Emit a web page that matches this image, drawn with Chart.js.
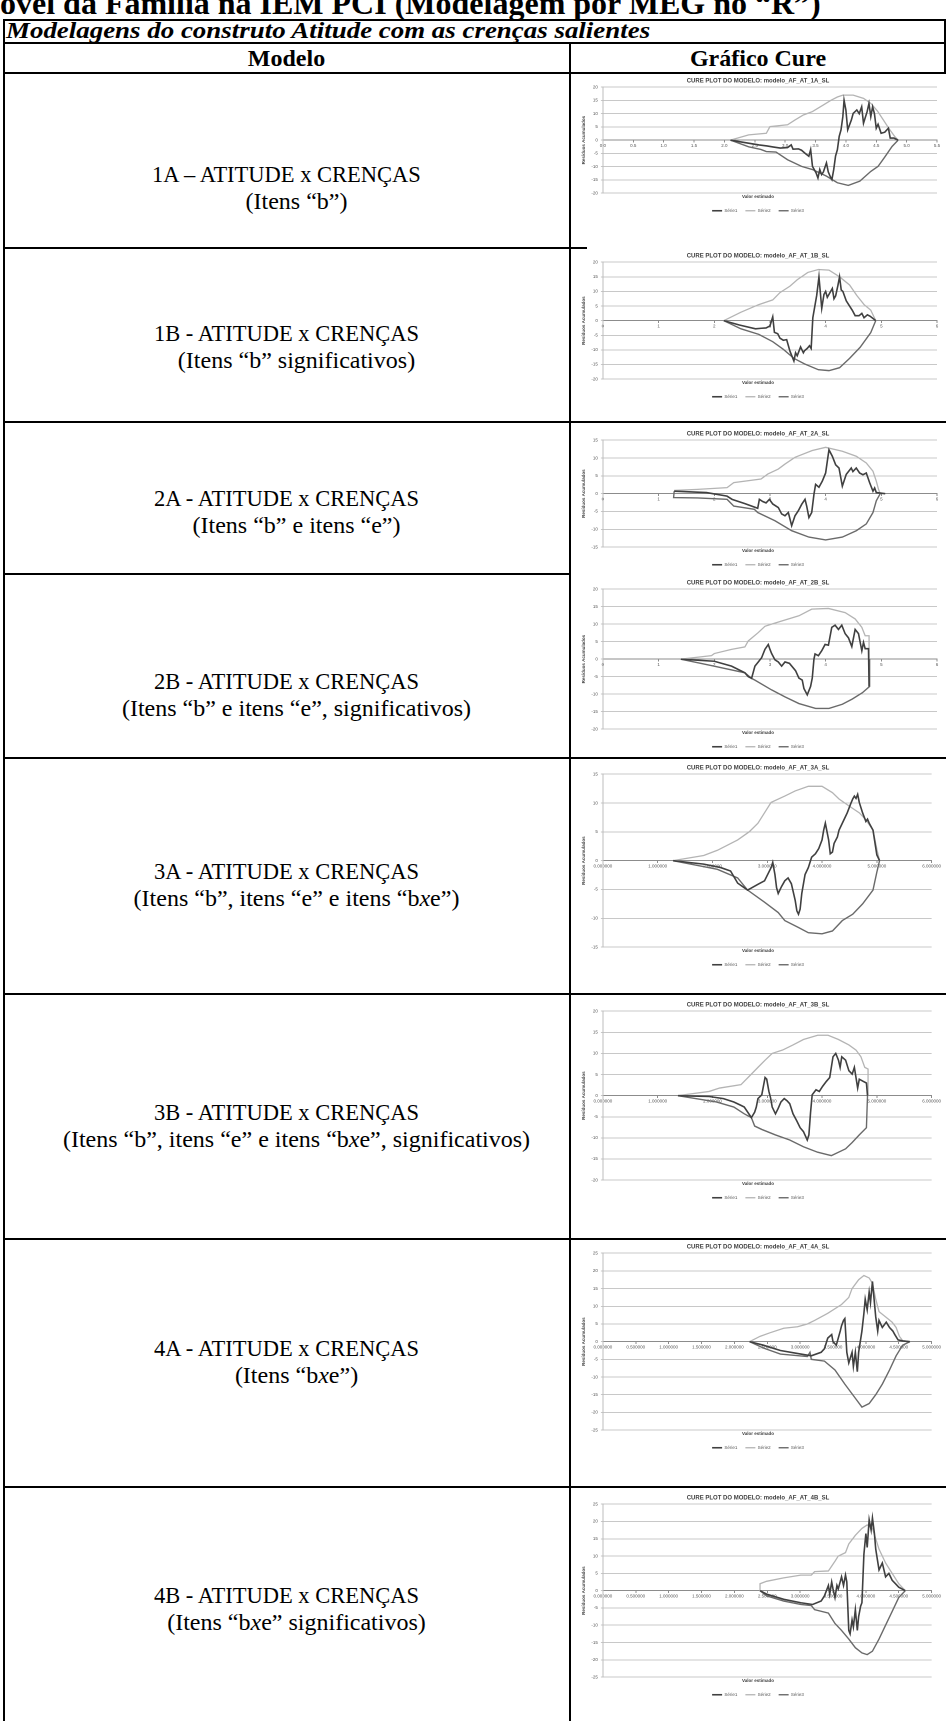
<!DOCTYPE html>
<html>
<head>
<meta charset="utf-8">
<script src="https://cdn.jsdelivr.net/npm/chart.js@4.4.1/dist/chart.umd.min.js"></script>
<style>
html,body{margin:0;padding:0;background:#fff;}
body{width:946px;height:1721px;position:relative;overflow:hidden;font-family:"Liberation Serif","Times New Roman",serif;color:#000;}
.ln{position:absolute;background:#000;}
.txt{position:absolute;white-space:nowrap;}
.cell{position:absolute;left:3px;width:567px;text-align:center;font-size:22.5px;line-height:26px;white-space:nowrap;}
.cell .l2{font-size:24px;position:relative;left:10px;}
.chartbox{position:absolute;left:572px;width:370px;}
</style>
</head>
<body>
<div class="txt" style="left:0;top:-15px;font-size:32px;font-weight:bold;">óvel da Família na IEM PCI (Modelagem por MEG no “R”)</div>

<!-- moldura da tabela -->
<div class="ln" style="left:3px;top:19px;width:943px;height:2px;"></div>
<div class="ln" style="left:3px;top:42px;width:943px;height:2px;"></div>
<div class="ln" style="left:3px;top:72px;width:943px;height:2px;"></div>
<div class="ln" style="left:3px;top:19px;width:2px;height:1702px;"></div>
<div class="ln" style="left:944px;top:19px;width:2px;height:55px;"></div>
<div class="ln" style="left:569px;top:42px;width:2px;height:1679px;"></div>
<div class="ln" style="left:3px;top:247px;width:584px;height:2px;"></div>
<div class="ln" style="left:3px;top:421px;width:943px;height:2px;"></div>
<div class="ln" style="left:3px;top:573px;width:567px;height:2px;"></div>
<div class="ln" style="left:3px;top:757px;width:943px;height:2px;"></div>
<div class="ln" style="left:3px;top:993px;width:943px;height:2px;"></div>
<div class="ln" style="left:3px;top:1238px;width:943px;height:2px;"></div>
<div class="ln" style="left:3px;top:1486px;width:943px;height:2px;"></div>

<div class="txt" style="left:6px;top:20px;font-size:23px;line-height:22px;font-weight:bold;font-style:italic;transform:scaleX(1.17);transform-origin:0 0;">Modelagens do construto Atitude com as crenças salientes</div>
<div class="txt" style="left:3px;width:567px;text-align:center;top:44px;font-size:24px;line-height:28px;font-weight:bold;">Modelo</div>
<div class="txt" style="left:570px;width:376px;text-align:center;top:44px;font-size:24px;line-height:28px;font-weight:bold;">Gráfico Cure</div>

<div id="rows"></div>

<script>
// textos da coluna Modelo
const modelos = ['1A – ATITUDE x CRENÇAS','1B - ATITUDE x CRENÇAS','2A - ATITUDE x CRENÇAS','2B - ATITUDE x CRENÇAS',
  '3A - ATITUDE x CRENÇAS','3B - ATITUDE x CRENÇAS','4A - ATITUDE x CRENÇAS','4B - ATITUDE x CRENÇAS'];
const itens = ['(Itens “b”)','(Itens “b” significativos)','(Itens “b” e itens “e”)','(Itens “b” e itens “e”, significativos)',
  '(Itens “b”, itens “e” e itens “b<i>x</i>e”)','(Itens “b”, itens “e” e itens “b<i>x</i>e”, significativos)',
  '(Itens “b<i>x</i>e”)','(Itens “b<i>x</i>e” significativos)'];

// configuracao de cada grafico CURE
const chartIds = ['1A','1B','2A','2B','3A','3B','4A','4B'];
const xMaxes = [5.5, 6, 6, 6, 6, 6, 5, 5];
const xSteps = [0.5, 1, 1, 1, 1, 1, 0.5, 0.5];
const xDecimals = [1, 0, 0, 0, 6, 6, 6, 6];
const yLimits = [20, 20, 15, 20, 15, 20, 25, 25];
const legendNames = ['Série1','Série2','Série3'];

// Série1 = residuos acumulados, Série2 = limite superior, Série3 = limite inferior
const s1_1A = [[2.1,0],[2.57,-1.8],[2.7,-2.2],[2.81,-2.6],[2.92,-3],[3.04,-2.8],[3.1,-1.8],[3.13,-3.4],[3.22,-3.3],[3.27,-3.8],[3.33,-5],[3.39,-6.1],[3.42,-3.6],[3.45,-9.9],[3.51,-12.4],[3.54,-14.3],[3.57,-11.1],[3.6,-13],[3.63,-12],[3.68,-8.6],[3.71,-12],[3.74,-13.6],[3.77,-14.9],[3.8,-11.1],[3.83,-6],[3.86,-3.6],[3.89,1.4],[3.92,3.9],[3.95,8.9],[3.97,15.1],[4.0,11.4],[4.03,3.9],[4.09,7.6],[4.12,10.1],[4.18,11.4],[4.22,10],[4.26,12.6],[4.29,6.4],[4.35,10.8],[4.38,13.9],[4.41,8.9],[4.44,12.6],[4.47,10],[4.5,4.5],[4.53,6],[4.58,2.6],[4.64,3],[4.7,4.5],[4.73,0.8],[4.79,0.8],[4.86,0]];
const s2_1A = [[2.1,0],[2.4,2],[2.69,2.6],[2.75,5.1],[3.04,5.8],[3.16,7.6],[3.3,9.5],[3.45,10.8],[3.63,13.3],[3.75,15],[3.86,16.3],[3.95,17],[4.12,17],[4.29,15.8],[4.41,13.9],[4.52,11],[4.62,7.5],[4.72,4],[4.8,1.5],[4.86,0]];
const s3_1A = [[2.1,0],[2.4,-2.5],[2.6,-3.5],[2.69,-4.3],[2.85,-4.5],[3.04,-7.4],[3.27,-9.9],[3.45,-11.1],[3.68,-13.6],[3.86,-16.1],[4.04,-17.1],[4.23,-15.5],[4.41,-11.8],[4.53,-9.9],[4.64,-6.4],[4.76,-2.4],[4.86,0]];

const s1_1B = [[2.17,0],[2.45,-1.5],[2.74,-2.8],[2.85,-2.6],[2.93,-2.5],[3.0,-1.8],[3.05,1.3],[3.08,-4],[3.14,-4.5],[3.18,-6],[3.24,-6.7],[3.3,-6.5],[3.36,-10.5],[3.43,-13.8],[3.46,-11],[3.49,-12],[3.55,-9],[3.6,-11],[3.62,-10.3],[3.67,-9.5],[3.71,-8.6],[3.74,-9.5],[3.77,1],[3.84,8.7],[3.88,15],[3.93,4.2],[3.97,9],[4.0,10],[4.03,8],[4.06,9],[4.12,11],[4.15,7.5],[4.18,8.5],[4.22,12],[4.25,15],[4.28,10.5],[4.31,10],[4.37,6.8],[4.43,5],[4.48,3.5],[4.53,1.7],[4.6,1.7],[4.65,2.5],[4.69,1],[4.75,2],[4.8,1.5],[4.9,0]];
const s2_1B = [[2.17,0],[2.48,2.9],[2.8,5.5],[3.05,7.1],[3.18,9.6],[3.36,11.8],[3.49,14],[3.68,16.5],[3.87,17.5],[4.06,17.3],[4.25,15],[4.43,12.2],[4.56,8.6],[4.69,5.5],[4.81,3.6],[4.9,0]];
const s3_1B = [[2.17,0],[2.48,-2.8],[2.8,-4.7],[3.05,-7.2],[3.24,-9.8],[3.43,-12.9],[3.62,-14.8],[3.87,-16.8],[4.06,-17.1],[4.25,-16.1],[4.43,-12.9],[4.62,-9.1],[4.81,-4.1],[4.9,0]];

const s1_2A = [[1.28,0.7],[1.86,0.3],[2.23,-0.7],[2.32,-1.6],[2.55,-2.8],[2.78,-4.1],[2.81,-1.6],[2.87,-2.2],[2.93,-2.6],[2.99,-1.6],[3.05,-2.9],[3.15,-3.9],[3.21,-5.7],[3.27,-6.2],[3.33,-5.3],[3.39,-9],[3.45,-6.2],[3.51,-4.8],[3.57,-3],[3.63,-1.6],[3.66,-3.5],[3.7,-6.7],[3.75,-5.3],[3.79,-0.2],[3.82,2.6],[3.88,1.8],[3.94,3.5],[4.0,5.8],[4.03,9.1],[4.06,12.3],[4.12,10.5],[4.18,8.1],[4.24,7.2],[4.3,2.1],[4.37,5.4],[4.46,7.2],[4.49,6.2],[4.55,7.2],[4.61,5.8],[4.67,5.3],[4.73,5.8],[4.79,3.1],[4.85,0.7],[4.88,1.6],[4.91,0.3],[5.07,0]];
const s2_2A = [[1.28,0.9],[1.7,1.2],[2.23,1.7],[2.35,3.1],[2.84,4.1],[2.96,5.5],[3.15,6.9],[3.27,8.3],[3.45,10.2],[3.76,12.1],[4.0,13],[4.3,11.9],[4.55,10.5],[4.73,8.6],[4.85,6.3],[4.91,3.5],[4.95,1.2],[4.98,0]];
const s3_2A = [[1.28,0.7],[1.27,-1.1],[1.7,-1.2],[2.23,-1.6],[2.35,-3.5],[2.72,-4.4],[2.78,-5.3],[3.09,-7.6],[3.39,-10.4],[3.7,-12.2],[4.0,-13],[4.3,-12.2],[4.55,-10.4],[4.73,-8.5],[4.85,-5.3],[4.91,-2],[4.98,0]];

const s1_2B = [[1.4,0],[2.0,-0.6],[2.31,-2],[2.55,-3.9],[2.61,-5],[2.67,-5.5],[2.73,-2],[2.79,-0.8],[2.85,0.4],[2.91,2.8],[2.97,4.2],[3.0,2.8],[3.03,1.6],[3.09,-0.2],[3.15,-0.8],[3.21,-2],[3.27,-0.8],[3.35,-1.2],[3.46,-3.3],[3.52,-5.4],[3.58,-6],[3.61,-8.4],[3.67,-10.2],[3.73,-7.8],[3.76,-5.4],[3.79,0],[3.81,1.5],[3.87,1],[3.93,2.4],[3.99,4.2],[4.05,4],[4.11,9.1],[4.17,9.7],[4.23,8.5],[4.29,9.7],[4.35,7.3],[4.41,6.1],[4.47,3.6],[4.53,8.5],[4.59,7.3],[4.65,2.4],[4.68,4.8],[4.71,3],[4.77,3],[4.78,-7.8]];
const s2_2B = [[1.4,0],[1.95,1],[2.0,1.6],[2.31,2.8],[2.55,3.5],[2.61,5.2],[2.79,7.6],[2.91,9.4],[3.03,10],[3.27,11.2],[3.52,12.4],[3.75,14.3],[4.05,14.5],[4.35,13.3],[4.53,11.5],[4.65,9.1],[4.71,6.7],[4.78,6.7],[4.78,0]];
const s3_2B = [[1.4,0],[2.0,-2.0],[2.55,-3.9],[2.67,-5.5],[2.73,-6],[3.03,-8.8],[3.27,-10.8],[3.52,-12.7],[3.82,-14.1],[4.06,-14.1],[4.3,-12.9],[4.48,-11.4],[4.66,-9.6],[4.79,-7.8],[4.79,0]];

const s1_3A = [[1.28,0],[1.84,-0.6],[2.15,-1.2],[2.33,-1.8],[2.46,-3.9],[2.64,-5.1],[2.7,-4.8],[2.83,-4.1],[2.95,-3.5],[3.07,-1.2],[3.1,-0.3],[3.14,-2.4],[3.17,-4.7],[3.2,-5.7],[3.26,-4.5],[3.32,-3.5],[3.38,-3],[3.44,-4],[3.51,-6.9],[3.54,-8.7],[3.57,-9.3],[3.6,-8.4],[3.63,-5.7],[3.69,-2.4],[3.75,-1.2],[3.81,0.6],[3.88,1.2],[3.94,2.1],[4.0,3.6],[4.03,5.3],[4.06,6.5],[4.12,3.6],[4.15,1.2],[4.19,1.5],[4.22,3],[4.28,4.1],[4.31,5.3],[4.4,7.1],[4.46,8.3],[4.52,9.8],[4.56,10.7],[4.59,11.2],[4.62,10.8],[4.65,11.5],[4.68,10.1],[4.74,8.3],[4.8,6.8],[4.83,7.2],[4.86,6.5],[4.93,5.3],[5.0,1],[5.05,0]];
const s2_3A = [[1.28,0],[1.84,0.9],[2.09,1.8],[2.46,3.6],[2.67,5],[2.83,6.5],[2.95,8.3],[3.07,10.1],[3.32,11.2],[3.51,12.1],[3.75,12.9],[4.0,12.9],[4.19,11.8],[4.31,10.7],[4.49,9.5],[4.68,8.3],[4.8,7.1],[4.93,5.3],[5.0,2],[5.05,0]];
const s3_3A = [[1.28,0],[2.09,-1.5],[2.46,-3],[2.64,-5.1],[2.95,-7.2],[3.2,-9],[3.32,-10.4],[3.57,-11.6],[3.75,-12.5],[4.0,-12.7],[4.19,-12.2],[4.37,-10.4],[4.56,-9.3],[4.74,-7.5],[4.86,-6],[4.93,-5.1],[5.0,-2],[5.05,0]];

const s1_3B = [[1.37,0],[1.94,-0.2],[2.2,-0.7],[2.39,-1.5],[2.52,-2.3],[2.58,-2.7],[2.71,-5.2],[2.77,-3.9],[2.8,-2.7],[2.83,-0.7],[2.9,0.2],[2.96,4.3],[2.99,3.9],[3.03,1],[3.06,-0.5],[3.09,-2.7],[3.15,-4.3],[3.2,-3],[3.25,-1.5],[3.31,-0.7],[3.36,-1.2],[3.41,-1.9],[3.47,-4.3],[3.54,-6],[3.6,-7.6],[3.66,-8.5],[3.73,-10.5],[3.76,-9.3],[3.79,-4],[3.82,0.2],[3.89,1.4],[3.95,1],[4.01,2.2],[4.08,3.4],[4.14,4.3],[4.2,9.2],[4.25,10],[4.3,8.4],[4.33,6.7],[4.36,9.2],[4.43,8.4],[4.49,5.9],[4.55,5.1],[4.59,6.7],[4.65,1.8],[4.68,3.9],[4.75,3.4],[4.81,3],[4.83,0]];
const s2_3B = [[1.37,0],[1.94,1],[2.13,1.8],[2.52,2.6],[2.71,5.1],[2.83,6.7],[2.96,8.4],[3.09,10],[3.28,10.8],[3.47,12],[3.66,13.3],[3.92,14.3],[4.11,14.3],[4.3,13.3],[4.49,12],[4.62,10.8],[4.71,9.2],[4.78,6.7],[4.84,6.3],[4.84,0]];
const s3_3B = [[1.37,0],[2.07,-1.5],[2.39,-2.7],[2.58,-4.3],[2.71,-5.2],[2.77,-7.2],[2.9,-8],[3.15,-9.3],[3.41,-10.5],[3.66,-12.1],[3.92,-13.4],[4.11,-14],[4.17,-14.2],[4.43,-12.6],[4.55,-11.1],[4.68,-9.3],[4.81,-7.6],[4.83,0]];

const s1_4A = [[2.23,0],[2.44,-1],[2.7,-2.5],[3.01,-3.5],[3.17,-4],[3.32,-3],[3.37,-2],[3.42,1],[3.48,2],[3.5,0],[3.55,-1],[3.61,3],[3.63,4.5],[3.66,6],[3.68,6.5],[3.71,-3],[3.74,-6],[3.79,-3],[3.81,-7],[3.84,-3],[3.87,-8.5],[3.89,-3],[3.94,3],[3.97,8],[3.99,12],[4.02,9],[4.05,14],[4.07,11],[4.1,17],[4.12,13],[4.15,7],[4.18,3],[4.2,6],[4.25,4],[4.31,5.5],[4.36,4],[4.41,3],[4.44,2],[4.49,0.5],[4.56,0.2],[4.67,0]];
const s2_4A = [[2.23,0],[2.39,1.5],[2.54,2.5],[2.75,3.8],[2.96,4.2],[3.11,5],[3.22,6],[3.42,8],[3.63,10.5],[3.74,12.5],[3.79,15],[3.89,17.5],[3.97,18.7],[4.05,18],[4.1,16.5],[4.15,12],[4.2,8.5],[4.3,7],[4.4,5.5],[4.46,4],[4.51,1.5],[4.56,0.3],[4.67,0]];
const s3_4A = [[2.23,0],[2.44,-1.8],[2.7,-3.5],[3.11,-4.2],[3.15,-3],[3.17,-5],[3.37,-5.5],[3.53,-8],[3.68,-12],[3.84,-16],[3.94,-18.5],[4.05,-17.5],[4.15,-15],[4.25,-12],[4.36,-8],[4.46,-4],[4.56,-1],[4.67,0]];

const s1_4B = [[2.39,0],[2.49,-1],[2.75,-2.5],[3.01,-3.5],[3.19,-4],[3.32,-3],[3.37,-1.5],[3.43,1.5],[3.45,-1],[3.48,2.5],[3.5,0.5],[3.53,-2],[3.56,1.5],[3.58,0.5],[3.63,4],[3.66,1.5],[3.69,4.5],[3.71,2.5],[3.74,-11.5],[3.76,-12.5],[3.79,-8.5],[3.81,-10.5],[3.84,-5.5],[3.87,-11.5],[3.89,-7.5],[3.92,-4.5],[3.94,-3.5],[3.97,10.5],[4.0,16.5],[4.02,12.5],[4.05,20.5],[4.08,17.5],[4.1,21],[4.13,16.5],[4.15,12],[4.2,6],[4.25,8],[4.3,4],[4.35,5],[4.4,3],[4.45,2],[4.5,1],[4.6,0]];
const s2_4B = [[2.39,0],[2.39,2],[2.49,2.7],[2.75,3.7],[3.01,4.5],[3.17,4.5],[3.22,5.5],[3.43,5.7],[3.53,8.5],[3.58,10],[3.69,11],[3.74,13.5],[3.84,16],[3.94,18],[4.02,19],[4.1,18],[4.2,12],[4.3,8],[4.4,5],[4.5,2],[4.6,0]];
const s3_4B = [[2.39,0],[2.49,-1.5],[2.75,-3],[3.01,-4],[3.17,-4.3],[3.22,-5.5],[3.43,-6.5],[3.53,-9.5],[3.63,-11.5],[3.74,-14],[3.84,-16.5],[3.94,-18],[4.02,-18.5],[4.1,-17.5],[4.2,-14],[4.3,-10],[4.4,-6],[4.5,-2],[4.6,0]];

const serie1 = [s1_1A, s1_1B, s1_2A, s1_2B, s1_3A, s1_3B, s1_4A, s1_4B];
const serie2 = [s2_1A, s2_1B, s2_2A, s2_2B, s2_3A, s2_3B, s2_4A, s2_4B];
const serie3 = [s3_1A, s3_1B, s3_2A, s3_2B, s3_3A, s3_3B, s3_4A, s3_4B];

// posicoes na pagina
const textTops = [162, 321, 486, 669, 859, 1100, 1336, 1583];
const chartTops = [75, 250, 428, 577, 762, 999, 1241, 1492];
const chartHeights = [148, 159, 149, 182, 215, 211, 219, 215];

const rows = document.getElementById('rows');
modelos.forEach((m, i) => {
    const d = document.createElement('div');
    d.className = 'cell';
    d.style.top = textTops[i] + 'px';
    d.innerHTML = m + '<br><span class="l2">' + itens[i] + '</span>';
    rows.appendChild(d);
});

Chart.defaults.font.family = '"Liberation Sans", Arial, sans-serif';
Chart.defaults.color = '#595959';

const seriesColors = ['#404040', '#b4b4b4', '#6a6a6a'];
const seriesWidths = [1.6, 1.3, 1.4];
const toPts = arr => arr.map(p => ({x: p[0], y: p[1]}));

chartIds.forEach((id, i) => {
    const box = document.createElement('div');
    box.className = 'chartbox';
    box.style.top = chartTops[i] + 'px';
    box.style.height = chartHeights[i] + 'px';
    const cv = document.createElement('canvas');
    box.appendChild(cv);
    document.body.appendChild(box);

    const data = [serie1[i], serie2[i], serie3[i]];
    new Chart(cv, {
        type: 'scatter',
        data: {
            datasets: data.map((s, k) => ({
                label: legendNames[k],
                data: toPts(s),
                showLine: true,
                borderColor: seriesColors[k],
                backgroundColor: seriesColors[k],
                borderWidth: seriesWidths[k],
                pointRadius: 0,
                tension: 0
            }))
        },
        options: {
            responsive: true,
            maintainAspectRatio: false,
            animation: false,
            devicePixelRatio: 2,
            layout: {padding: {left: 7, right: 5, top: 0, bottom: 0}},
            plugins: {
                title: {display: true, text: 'CURE PLOT DO MODELO: modelo_AF_AT_' + id + '_SL',
                    color: '#404040', font: {size: 6, weight: 'bold'}, padding: {top: 2, bottom: 3}},
                subtitle: {display: true, text: 'Valor estimado', position: 'bottom', weight: 500,
                    color: '#404040', font: {size: 4.5, weight: 'bold'}, padding: {top: 1, bottom: 1}},
                legend: {position: 'bottom', labels: {usePointStyle: true, pointStyle: 'line', pointStyleWidth: 10,
                    font: {size: 4.5}, padding: 8, color: '#595959'}},
                tooltip: {enabled: false}
            },
            scales: {
                x: {
                    type: 'linear', position: {y: 0}, min: 0, max: xMaxes[i],
                    ticks: {stepSize: xSteps[i], autoSkip: false, maxRotation: 0, padding: 1,
                        font: {size: 4.5}, callback: v => Number(v).toFixed(xDecimals[i])},
                    grid: {drawOnChartArea: false, drawTicks: true, tickLength: 2, color: '#8c8c8c'},
                    border: {display: true, color: '#8c8c8c', width: 1}
                },
                y: {
                    min: -yLimits[i], max: yLimits[i],
                    ticks: {stepSize: 5, padding: 3, font: {size: 4.5}},
                    grid: {color: '#c8c8c8', lineWidth: 1, tickLength: 2},
                    border: {display: true, color: '#bdbdbd'},
                    title: {display: true, text: 'Resíduos Acumulados', color: '#404040',
                        font: {size: 4.5, weight: 'bold'}, padding: 2}
                }
            }
        }
    });
});
</script>
</body>
</html>
